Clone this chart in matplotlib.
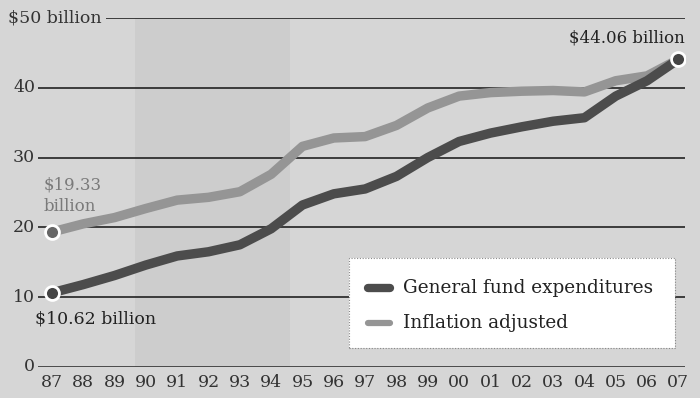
import numpy as np
import matplotlib.pyplot as plt

years = np.arange(1987, 2008)
year_labels = ["87", "88", "89", "90", "91", "92", "93", "94", "95", "96",
               "97", "98", "99", "00", "01", "02", "03", "04", "05", "06", "07"]

# general fund spending, billions of dollars
general_fund = [10.62, 11.8, 13.1, 14.6, 15.9, 16.5, 17.5, 19.8, 23.2, 24.8,
                25.5, 27.3, 30.0, 32.3, 33.5, 34.4, 35.2, 35.7, 38.8, 41.0, 44.06]
# same spending in 2007 dollars
inflation_adj = [19.33, 20.5, 21.4, 22.7, 23.9, 24.3, 25.1, 27.6, 31.6, 32.8,
                 33.0, 34.6, 37.1, 38.8, 39.3, 39.5, 39.6, 39.4, 41.0, 41.7, 44.06]

yticks = [0, 10, 20, 30, 40, 50]

bg = "#d6d6d6"
band = "#cdcdcd"
dark = "#4c4c4c"
light = "#959595"
font = "DejaVu Serif"

fig = plt.figure(figsize=(7, 3.98), dpi=100, facecolor=bg)
ax = fig.add_axes([0.054, 0.078, 0.925, 0.877])
ax.set_facecolor(bg)
ax.set_xlim(1986.55, 2007.22)
ax.set_ylim(0, 50)

# slightly darker band behind the early 90s
ax.axvspan(1989.65, 1994.6, color=band, zorder=0, lw=0)

for v in yticks:
    ax.axhline(v, color="#222222", lw=1.8 if v == 0 else 1.2, zorder=1)
    if v == 50:
        ax.text(-0.046, v, "$50 billion", transform=ax.get_yaxis_transform(),
                ha="left", va="center", fontsize=12.5, family=font, color="#333333",
                bbox=dict(facecolor=bg, edgecolor="none", pad=3))
    else:
        ax.text(-0.004, v, str(v), transform=ax.get_yaxis_transform(),
                ha="right", va="center", fontsize=12.5, family=font, color="#333333")

for x, lab in zip(years, year_labels):
    ax.text(x, -1.0, lab, ha="center", va="top", fontsize=12.5, family=font,
            color="#333333")

ax.plot(years, inflation_adj, color=light, lw=6.8, solid_capstyle="round",
        solid_joinstyle="round", zorder=3)
ax.plot(years, general_fund, color=dark, lw=6.8, solid_capstyle="round",
        solid_joinstyle="round", zorder=4)

ax.plot(years[0], inflation_adj[0], "o", ms=10, color="#666666", mec="white",
        mew=2, zorder=5)
ax.plot(years[0], general_fund[0], "o", ms=10, color="#444444", mec="white",
        mew=2, zorder=5)
ax.plot(years[-1], general_fund[-1], "o", ms=10, color="#444444", mec="white",
        mew=2, zorder=5)

ax.text(years[-1] + 0.2, 47.1, f"${general_fund[-1]:.2f} billion", ha="right",
        va="center", fontsize=12, family=font, color="#222222")
ax.text(1986.72, 24.5, f"${inflation_adj[0]:.2f}\nbillion", ha="left",
        va="center", fontsize=12, family=font, color="#7a7a7a", linespacing=1.35)
ax.text(1986.45, 6.9, f"${general_fund[0]:.2f} billion", ha="left",
        va="center", fontsize=12.5, family=font, color="#222222")

# legend box
lx0, lx1 = 1996.5, 2006.9
ax.fill_between([lx0, lx1], 2.7, 15.6, color="white", zorder=6, lw=0)
ax.plot([lx0, lx1, lx1, lx0, lx0], [2.7, 2.7, 15.6, 15.6, 2.7], color="#888888",
        lw=0.8, ls=(0, (1, 1.5)), zorder=7)
ax.plot([1997.1, 1997.8], [11.3, 11.3], color=dark, lw=6,
        solid_capstyle="round", zorder=7)
ax.plot([1997.1, 1997.8], [6.3, 6.3], color=light, lw=4.5,
        solid_capstyle="round", zorder=7)
ax.text(1998.2, 11.3, "General fund expenditures", ha="left", va="center",
        fontsize=13.3, family=font, color="#222222", zorder=8)
ax.text(1998.2, 6.3, "Inflation adjusted", ha="left", va="center",
        fontsize=13.3, family=font, color="#222222", zorder=8)

for s in ax.spines.values():
    s.set_visible(False)
ax.set_xticks([])
ax.set_yticks([])

fig.savefig("out.png", dpi=100, facecolor=bg)
